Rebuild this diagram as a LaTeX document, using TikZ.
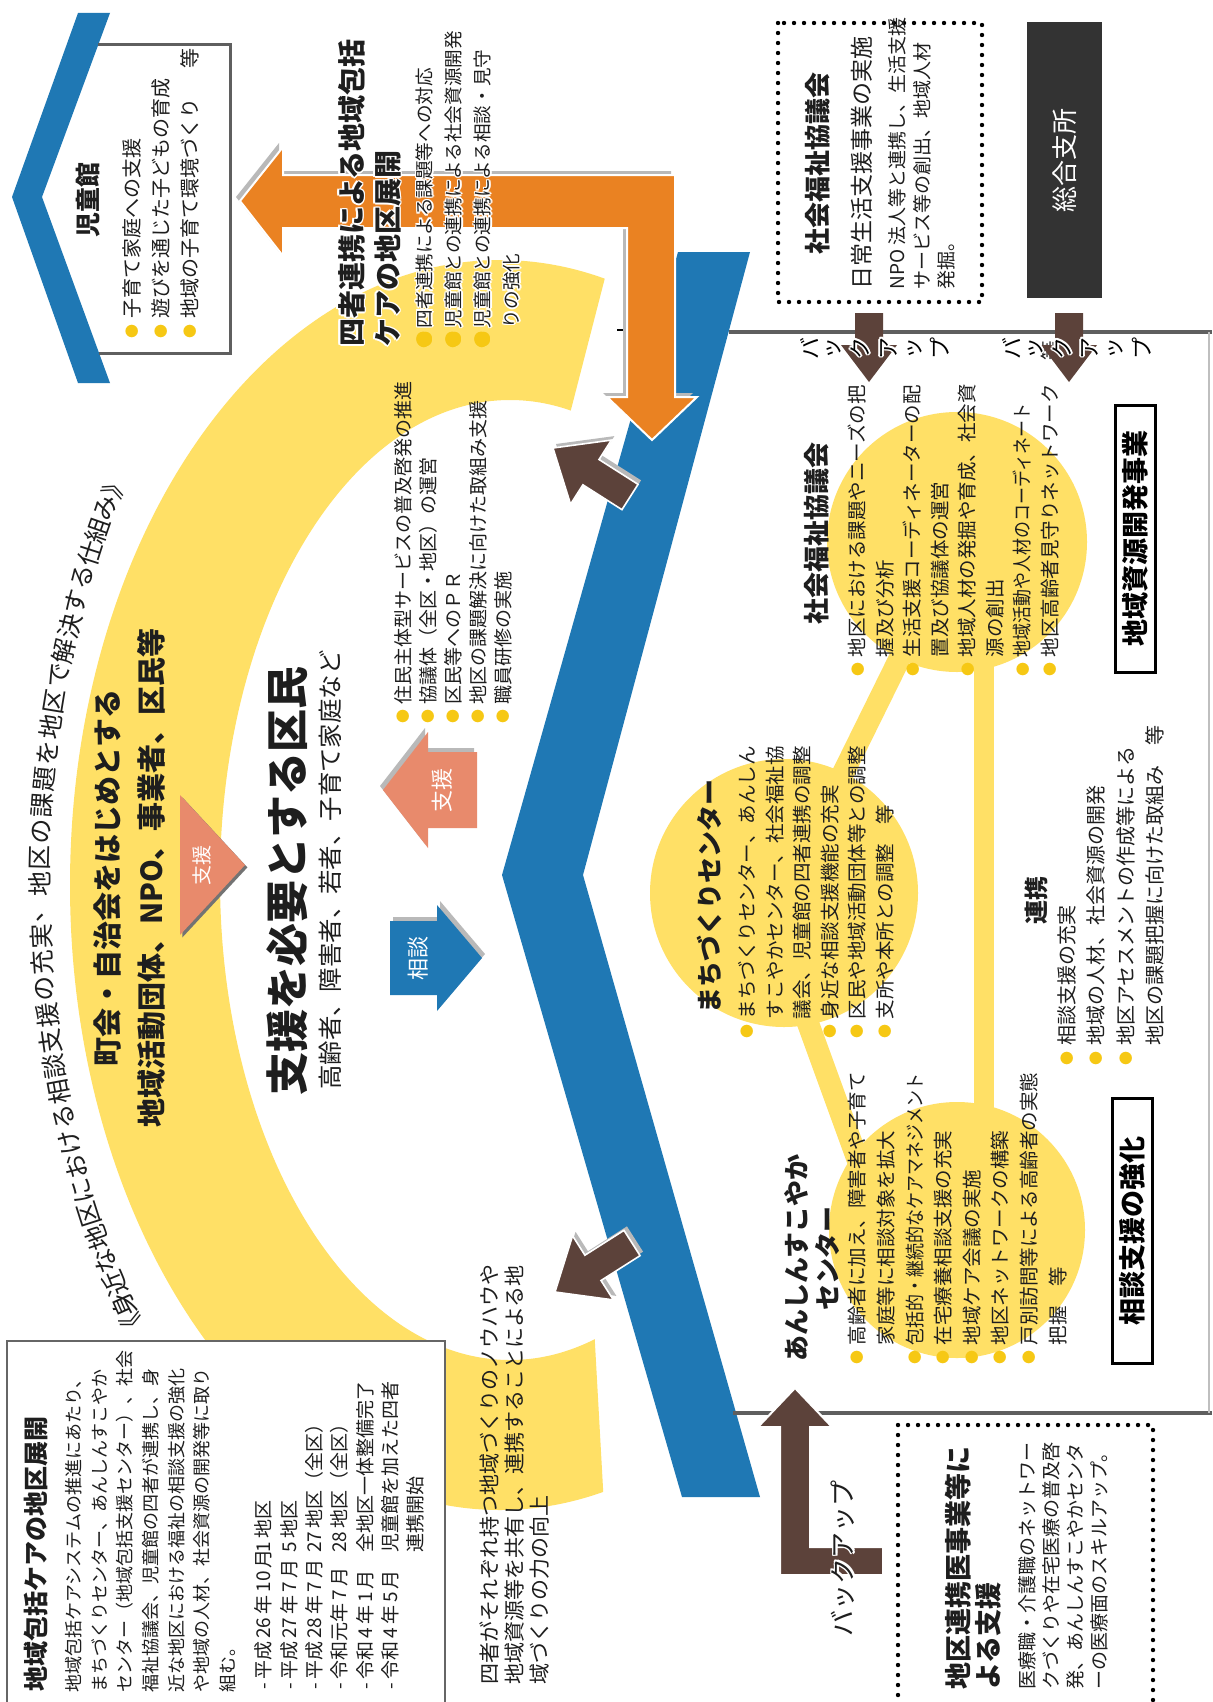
\documentclass[tikz,border=0pt]{standalone}
\usepackage{graphicx}
\usepackage{fontspec}
\setmainfont{Noto Sans CJK JP}
\usetikzlibrary{calc}
\definecolor{cyel}{RGB}{255,224,102}
\definecolor{cblue}{RGB}{31,120,180}
\definecolor{corange}{RGB}{234,130,34}
\definecolor{csalmon}{RGB}{232,138,108}
\definecolor{cbrown}{RGB}{92,66,58}
\definecolor{cdot}{RGB}{246,200,20}
\definecolor{cline}{RGB}{95,95,95}
\definecolor{cshadow}{RGB}{185,185,185}
\definecolor{cdark}{RGB}{51,51,51}
\definecolor{ctext}{RGB}{30,30,30}
\newcommand\fs[2]{\fontsize{#1}{#2}\selectfont}
\newcommand\bl{\makebox[1em][l]{\raisebox{0.1em}{\textcolor{cdot}{\fontsize{7}{7}\selectfont ●}}}}
\newcommand\ind{\hspace*{1em}}
\newcommand\nar[1]{\scalebox{0.87}[1]{#1}}
\newcommand\gl[1]{\leavevmode
 \rlap{\textcolor{white}{\kern0.8pt#1}}%
 \rlap{\textcolor{white}{\kern-0.8pt#1}}%
 \rlap{\textcolor{white}{\raisebox{0.8pt}{#1}}}%
 \rlap{\textcolor{white}{\raisebox{-0.8pt}{#1}}}%
 \rlap{\textcolor{white}{\kern0.6pt\raisebox{0.6pt}{#1}}}%
 \rlap{\textcolor{white}{\kern-0.6pt\raisebox{0.6pt}{#1}}}%
 \rlap{\textcolor{white}{\kern0.6pt\raisebox{-0.6pt}{#1}}}%
 \rlap{\textcolor{white}{\kern-0.6pt\raisebox{-0.6pt}{#1}}}%
 #1}
\newcommand\fatarrow[6]{%
  \coordinate (fab) at ($(#2)!#3!(#1)$);
  \path[#6] ($(#1)!#5!90:(#2)$) -- ($(fab)!#5!90:(#2)$) -- ($(fab)!#4!90:(#2)$) -- (#2) -- ($(fab)!#4!-90:(#2)$) -- ($(fab)!#5!-90:(#2)$) -- ($(#1)!#5!-90:(#2)$) -- cycle;}
\tikzset{
  vt/.style={rotate=90, inner sep=0pt, anchor=north west, align=left, text=ctext},
  vc/.style={rotate=90, inner sep=0pt, anchor=center, align=center, text=ctext},
  dotbox/.style={draw=black, dash pattern=on 0pt off 5pt, line cap=round, line width=2.2pt},
  ybubble/.style={circle, fill=cyel, inner sep=0pt},
  framebox/.style={rotate=90, draw=black, line width=1.5pt, inner sep=0pt, font=\fs{13.5}{15}\bfseries},
}
\begin{document}
\begin{tikzpicture}[x=0.5pt,y=-0.5pt]
\useasboundingbox (0,0) rectangle (1212,1702);
\fill[white] (0,0) rectangle (1212,1702);

% ---------- yellow arc ----------
\begin{scope}
\clip (625,200) -- (-10,200) -- (-10,1650) -- (612,1650) -- (592,1290) -- (540,530) -- cycle;
\fill[cyel, even odd rule] (500,885) ellipse [x radius=430, y radius=625] (510,880) ellipse [x radius=290, y radius=480];
\end{scope}

% curved title
\foreach \ch [count=\n] in {《,身,近,な,地,区,に,お,け,る,相,談,支,援,の,充,実,、,地,区,の,課,題,を,地,区,で,解,決,す,る,仕,組,み,》}{
  \pgfmathsetmacro\ph{37.2-(\n-1)*70.4/34}
  \pgfmathsetmacro\rt{atan2(730*cos(\ph),-460*sin(\ph))}
  \node[rotate=\rt, font=\fs{12.5}{14}, inner sep=0pt, text=ctext] (tt\n) at ({500-460*cos(\ph)},{885+730*sin(\ph)}) {\ch};
}

% text on the yellow band
\node[vc, font=\fs{14.5}{22}\bfseries] (yband) at (130,878) {町会・自治会をはじめとする\\地域活動団体、NPO、事業者、区民等};
% support chevron on the band
\fill[black!55, transform canvas={xshift=1.2pt,yshift=-1.2pt}] (180,795) -- (245,865) -- (180,935) -- cycle;
\fill[csalmon] (180,795) -- (245,865) -- (180,935) -- cycle;
\node[vc, font=\fs{10}{12}, text=white] (shien1) at (202,865) {支援};

% ---------- children's hall ----------
\fill[cblue] (78,13) -- (110,13) -- (42,197) -- (110,383) -- (78,383) -- (12,197) -- cycle;
\draw[cline, line width=1.5pt] (98,45) -- (230,45) -- (230,353) -- (99,353);
\node[vc, font=\fs{12.5}{15}\bfseries] (jt) at (88,200) {児童館};
\node[vt, font=\fs{10}{14.5}] (jb) at (122,339) {\bl 子育て家庭への支援\\\bl 遊びを通じた子どもの育成\\\bl 地域の子育て環境づくり\hspace{1.5em}等};

% ---------- blue band ----------
\fill[cblue] (678,252) -- (750,252) -- (583,875) -- (760,1497) -- (682,1497) -- (502,875) -- cycle;

% ---------- gray section lines ----------
\draw[cline, line width=2pt] (729,332) -- (1212,332);
\draw[cline, line width=2pt] (733,1413) -- (1212,1413);
\draw[black!25, line width=0.6pt] (1209,332) -- (1209,1413);
\draw[black, line width=0.8pt] (617,330) -- (626,330);

% ---------- orange arrow ----------
\fill[cshadow, transform canvas={xshift=-2pt,yshift=2pt}] (240,201) -- (283,147) -- (283,175) -- (675,175) -- (675,397) -- (697,397) -- (652,440) -- (607,397) -- (627,397) -- (627,228) -- (283,228) -- (283,256) -- cycle;
\path[fill=corange, draw=white, line width=1pt] (240,201) -- (283,147) -- (283,175) -- (675,175) -- (675,397) -- (697,397) -- (652,440) -- (607,397) -- (627,397) -- (627,228) -- (283,228) -- (283,256) -- cycle;

\node[vt, font=\fs{14}{18}\bfseries] (hh) at (336,347) {\gl{四者連携による地域包括}\\\gl{ケアの地区展開}};
\node[vt, font=\fs{9.3}{14.5}] (hb) at (414,347) {\gl{\bl 四者連携による課題等への対応}\\\gl{\bl 児童館との連携による社会資源開発}\\\gl{\bl 児童館との連携による相談・見守}\\\ind\gl{りの強化}};

% ---------- brown diagonal arrows ----------
\fatarrow{630,497}{553,448}{22.5pt}{19pt}{7.5pt}{fill=cshadow, transform canvas={xshift=1.5pt,yshift=2pt}}
\fatarrow{630,497}{553,448}{22.5pt}{19pt}{7.5pt}{fill=cbrown, draw=white, line width=0.8pt}
\fatarrow{632,1243}{555,1292}{22.5pt}{19pt}{7.5pt}{fill=cshadow, transform canvas={xshift=1.5pt,yshift=2pt}}
\fatarrow{632,1243}{555,1292}{22.5pt}{19pt}{7.5pt}{fill=cbrown, draw=white, line width=0.8pt}

% ---------- centre ----------
\node[vt, font=\fs{21.5}{26}\bfseries] (bigt) at (266.5,1096) {支援を必要とする区民};
\node[vt, font=\fs{12.2}{15}] (subt) at (319,1090) {高齢者、障害者、若者、子育て家庭など};
\fatarrow{390,958}{482,958}{22.5pt}{26.5pt}{18.5pt}{fill=cshadow, transform canvas={xshift=1.5pt,yshift=2pt}}
\fatarrow{390,958}{482,958}{22.5pt}{26.5pt}{18.5pt}{fill=cblue}
\node[vc, font=\fs{11}{13}, text=white] (sodan) at (418,958) {相談};
\fatarrow{477,790}{383,790}{22.5pt}{29pt}{19pt}{fill=cshadow, transform canvas={xshift=-1.5pt,yshift=2pt}}
\fatarrow{477,790}{383,790}{22.5pt}{29pt}{19pt}{fill=csalmon}
\node[vc, font=\fs{11}{13}, text=white] (shien2) at (442,790) {支援};
\node[vt, font=\fs{9.5}{12.5}] (cb) at (394,724) {\bl 住民主体型サービスの普及啓発の推進\\\bl 協議体（全区・地区）の運営\\\bl 区民等へのＰＲ\\\bl 地区の課題解決に向けた取組み支援\\\bl 職員研修の実施};

% ---------- three bubbles ----------
\coordinate (mcc) at (784,893);
\coordinate (scc) at (957,542);
\coordinate (sbot) at (984,600);
\coordinate (atop) at (984,1130);
\coordinate (mlow) at (765,905);
\coordinate (aleft) at (865,1180);
\draw[cyel, line width=11pt] (mcc) -- (scc);
\draw[cyel, line width=10pt] (sbot) -- (atop);
\draw[cyel, line width=11pt] (mlow) -- (aleft);
\node[ybubble, minimum size=134pt] (mbub) at (mcc) {};
\node[ybubble, minimum size=130pt] (sbub) at (scc) {};
\node[ybubble, minimum size=128pt] (abub) at (957,1230) {};

\node[vc, font=\fs{13}{15}\bfseries] (stitle) at (817,533) {社会福祉協議会};
\node[vt, font=\fs{9.75}{13.75}] (sbl) at (848,677) {\bl 地区における課題やニーズの把\\\ind 握及び分析\\\bl 生活支援コーディネーターの配\\\ind 置及び協議体の運営\\\bl 地域人材の発掘や育成、社会資\\\ind 源の創出\\\bl \nar{地域活動や人材のコーディネート}\\\bl 地区高齢者見守りネットワーク\hspace{1.2em}等};

\node[vt, font=\fs{13}{15}\bfseries] (mtitle) at (697,1014) {まちづくりセンター};
\node[vt, font=\fs{9.75}{13.8}] (mbl) at (738,1039) {\bl まちづくりセンター、あんしん\\\ind すこやかセンター、社会福祉協\\\ind 議会、児童館の四者連携の調整\\\bl 身近な相談支援機能の充実\\\bl 区民や地域活動団体等との調整\\\bl 支所や本所との調整\hspace{1em}等};

\node[vc, font=\fs{13}{15.5}\bfseries] (atitle) at (812,1258) {あんしんすこやか\\センター};
\node[vt, font=\fs{9.75}{14.3}] (abl) at (848,1365) {\bl 高齢者に加え、障害者や子育て\\\ind 家庭等に相談対象を拡大\\\bl \nar{包括的・継続的なケアマネジメント}\\\bl 在宅療養相談支援の充実\\\bl 地域ケア会議の実施\\\bl 地区ネットワークの構築\\\bl 戸別訪問等による高齢者の実態\\\ind 把握\hspace{1em}等};

\node[vc, font=\fs{12}{14}\bfseries] (renkei) at (1036,900) {連携};
\node[vt, font=\fs{10}{14.75}] (rbl) at (1057,1066) {\bl 相談支援の充実\\\bl 地域の人材、社会資源の開発\\\bl 地区アセスメントの作成等による\\\ind 地区の課題把握に向けた取組み\hspace{1em}等};

% ---------- framed boxes ----------
\node[framebox, minimum width=132.5pt, minimum height=20pt] (kyoka) at (1132,1230.5) {相談支援の強化};
\node[framebox, minimum width=133.5pt, minimum height=20pt] (shigen) at (1135,538.5) {地域資源開発事業};

% ---------- top right ----------
\draw[dotbox] (778,23) rectangle (982,302);
\node[vc, font=\fs{13}{15}\bfseries] (dt1) at (818,163) {社会福祉協議会};
\node[vt, font=\fs{11.5}{14}] (dl1) at (850.5,290) {日常生活支援事業の実施};
\node[vt, font=\fs{9.5}{12.25}] (dl2) at (888.5,290) {NPO 法人等と連携し、生活支援\\サービス等の創出、地域人材\\発掘。};
\node[rotate=90, fill=cdark, minimum width=138pt, minimum height=37.5pt, inner sep=0pt, text=white, font=\fs{13}{15}] (sogo) at (1064.5,160) {総合支所};

\fill[cbrown] (855,313) -- (883,313) -- (883,345) -- (897,345) -- (869,382) -- (841,345) -- (855,345) -- cycle;
\fill[cbrown] (1055,313) -- (1083,313) -- (1083,345) -- (1097,345) -- (1069,382) -- (1041,345) -- (1055,345) -- cycle;
\foreach \ch/\xx in {バ/810, ッ/834, ク/860, ア/889, ッ/915, プ/940}
  \node[rotate=90, inner sep=0pt, font=\fs{11}{12}] (ba\xx) at (\xx,348) {\gl{\ch}};
\foreach \ch/\xx in {バ/1012, ッ/1036, ク/1062, ア/1090, ッ/1116, プ/1142}
  \node[rotate=90, inner sep=0pt, font=\fs{11}{12}] (bb\xx) at (\xx,348) {\gl{\ch}};

% ---------- bottom right ----------
\path[fill=cbrown, draw=white, line width=1pt] (795,1388) -- (832,1427) -- (810,1427) -- (810,1547) -- (883,1547) -- (883,1575) -- (780,1575) -- (780,1427) -- (758,1427) -- cycle;
\node[vc, font=\fs{13}{15}] (backup) at (843,1558) {\gl{バックアップ}};
\draw[dotbox] (898,1425) rectangle (1153,1730);
\node[vt, font=\fs{13.5}{15}\bfseries] (dt2) at (944.5,1690) {地区連携医事業等に\\よる支援};
\node[vt, font=\fs{9.5}{12}] (db2) at (1018.5,1690) {医療職・介護職のネットワー\\クづくりや在宅医療の普及啓\\発、あんしんすこやかセンタ\\ーの医療面のスキルアップ。};

% ---------- bottom left ----------
\path[fill=white, draw=black!60, line width=1pt] (7,1730) -- (7,1341) -- (445,1341) -- (445,1730);
\node[vt, font=\fs{12.5}{15}\bfseries] (kt) at (23.5,1692) {地域包括ケアの地区展開};
\node[vt, font=\fs{9}{12.8}] (kb) at (65,1693) {地域包括ケアシステムの推進にあたり、\\まちづくりセンター、あんしんすこやか\\センター（地域包括支援センター）、社会\\福祉協議会、児童館の四者が連携し、身\\近な地区における福祉の相談支援の強化\\や地域の人材、社会資源の開発等に取り\\組む。};
\node[vt, font=\fs{9.5}{12.65}] (kd) at (254.5,1690) {-\,平成\,26\,年\,10\,月\\-\,平成\,27\,年\,7\,月\\-\,平成\,28\,年\,7\,月\\-\,令和元年\,7\,月\\-\,令和\,4\,年\,1\,月\\-\,令和\,4\,年\,5\,月};
\node[vt, font=\fs{9.5}{12.65}] (kp) at (254.5,1553) {1\,地区\\5\,地区\\27\,地区（全区）\\28\,地区（全区）\\全地区一体整備完了\\児童館を加えた四者\\連携開始};
\node[vt, font=\fs{10.5}{12.5}] (btx) at (479.5,1685) {四者がそれぞれ持つ地域づくりのノウハウや\\地域資源等を共有し、連携することによる地\\域づくりの力の向上};
\end{tikzpicture}
\end{document}
